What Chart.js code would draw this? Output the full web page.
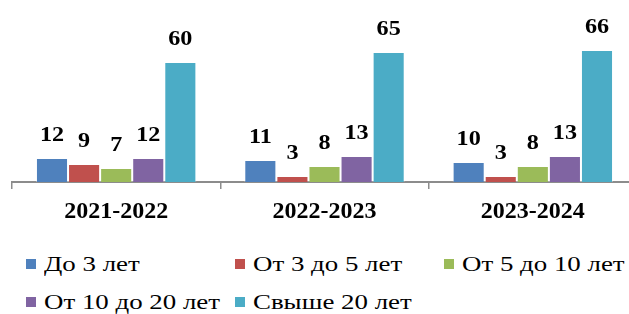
<!DOCTYPE html>
<html>
<head>
<meta charset="utf-8">
<script src="https://cdn.jsdelivr.net/npm/chart.js@4.4.1/dist/chart.umd.min.js"></script>
<style>
  html, body { margin: 0; padding: 0; background: #fff; overflow: hidden; }
  #wrap { position: absolute; left: 0; top: 0; width: 650px; height: 230px; }
  #legend { position: absolute; left: 26px; top: 245px; display: grid; grid-template-columns: 209px 209px 209px; grid-auto-rows: 38px; }
  .item { display: flex; align-items: center; font-family: 'Liberation Serif'; font-size: 21px; color: #000; white-space: nowrap; }
  .item span.txt { display: inline-block; transform: scaleX(1.28); transform-origin: left center; }
  .box { width: 10px; height: 10px; margin-right: 8px; flex: none; }
</style>
</head>
<body>
<div id="wrap"><canvas id="chart_1"></canvas></div>
<div id="legend"></div>
<script>
var years = ["2021-2022", "2022-2023", "2023-2024"];
var groups = ["До 3 лет", "От 3 до 5 лет", "От 5 до 10 лет", "От 10 до 20 лет", "Свыше 20 лет"];
var upTo3 = [12, 11, 10];
var from3to5 = [9, 3, 3];
var from5to10 = [7, 8, 8];
var from10to20 = [12, 13, 13];
var over20 = [60, 65, 66];
var colors = ["#4f81bd", "#c0504d", "#9bbb59", "#8064a2", "#4bacc6"];

var seriesValues = [upTo3, from3to5, from5to10, from10to20, over20];

Chart.defaults.font.family = "'Liberation Serif'";

// value labels above the bars (text a bit wider, like the original)
var valueLabels = {
    id: 'valueLabels',
    afterDatasetsDraw: function (chart) {
        var ctx = chart.ctx;
        chart.data.datasets.forEach(function (ds, i) {
            chart.getDatasetMeta(i).data.forEach(function (bar, j) {
                ctx.save();
                ctx.font = "bold 21px 'Liberation Serif'";
                ctx.fillStyle = "#000";
                ctx.textAlign = "center";
                ctx.textBaseline = "alphabetic";
                ctx.translate(bar.x, bar.y - 17);
                ctx.scale(1.15, 1);
                ctx.fillText(ds.data[j], 0, 0);
                ctx.restore();
            });
        });
    }
};

var ctx1 = document.getElementById("chart_1").getContext("2d");
var data1 = {
    labels: years,
    datasets: groups.map(function (g, i) {
        return {
            label: g,
            data: seriesValues[i],
            backgroundColor: colors[i],
            borderColor: "rgba(255,255,255,0.35)",
            borderWidth: 1,
            categoryPercentage: 0.77,
            barPercentage: 1.0
        };
    })
};

var barChart = new Chart(ctx1, {
    type: 'bar',
    data: data1,
    plugins: [valueLabels],
    options: {
        animation: false,
        responsive: true,
        maintainAspectRatio: false,
        layout: { padding: { left: 12, right: 13, top: 10, bottom: 0 } },
        plugins: {
            legend: { display: false },
            tooltip: { enabled: false }
        },
        scales: {
            x: {
                grid: { drawOnChartArea: false, drawTicks: true, tickLength: 7, color: "#8c8c8c", lineWidth: 1.5 },
                border: { color: "#8c8c8c", width: 2 },
                ticks: { color: "#000", padding: 8, font: { size: 24, weight: 'bold' } },
                afterFit: function (scale) { scale.height = 48; }
            },
            y: {
                display: false,
                min: 0,
                max: 86
            }
        }
    }
});

// legend in three columns, like the original
var legend = document.getElementById("legend");
groups.forEach(function (g, i) {
    var item = document.createElement("div");
    item.className = "item";
    var box = document.createElement("span");
    box.className = "box";
    box.style.background = colors[i];
    var txt = document.createElement("span");
    txt.className = "txt";
    txt.textContent = g;
    item.appendChild(box);
    item.appendChild(txt);
    legend.appendChild(item);
});
</script>
</body>
</html>
